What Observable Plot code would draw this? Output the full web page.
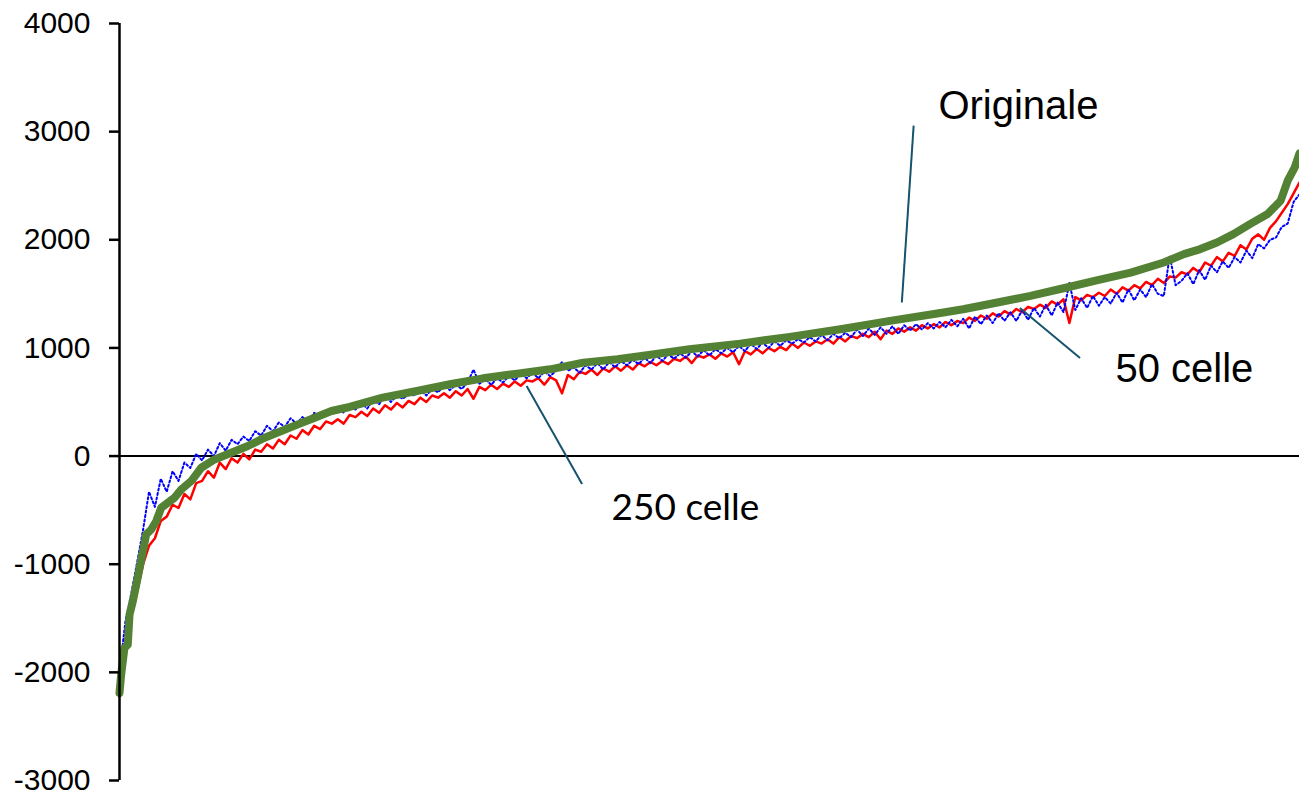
<!DOCTYPE html>
<html>
<head>
<meta charset="utf-8">
<script src="https://cdn.jsdelivr.net/npm/d3@7"></script>
<script src="https://cdn.jsdelivr.net/npm/@observablehq/plot@0.6"></script>
<style>
  html, body { margin: 0; padding: 0; background: #fff; }
  #chart svg { display: block; }
</style>
</head>
<body>
<div id="chart"></div>
<script>
// ---- Data ----
// Rank of observation (0..1000), values sorted by the original series
const yTicks = [-3000, -2000, -1000, 0, 1000, 2000, 3000, 4000];

// "Originale" (green, thick) — readings at these ranks
const originaleRank = [0,1.4,4.2,7,8.5,11.3,14.2,17,19.8,22.6,26.9,31.1,35.4,41,46.6,52.3,60.8,69.3,80.6,94.7,108.8,123,137.2,151.2,165.4,179.6,195,223,252,280,308,337,365,393,422,447,483,526,568,611,653,693,715,744,772,800,829,857,885,902,916,930,944,958,973,984,990,996,1000];
const originaleVal = [-2190,-2020,-1775,-1744,-1466,-1343,-1188,-1034,-880,-725,-679,-602,-478,-432,-386,-309,-231,-108,-31,31,93,170,231,293,355,417,454,540,602,664,719,762,802,864,895,932,988,1040,1102,1173,1250,1318,1358,1420,1481,1552,1627,1697,1790,1867,1914,1975,2052,2145,2238,2361,2546,2670,2800];

// "250 celle" (red) and "50 celle" (blue dotted): one reading every 5 ranks
const cellStep = 5;
const celle250 = [
-2225,-1800,-1480,-1250,-1000,-830,-760,-600,-560,-450,
-480,-350,-400,-250,-230,-140,-200,-60,-120,-20,
-60,20,-30,60,40,110,70,150,110,190,
160,240,200,280,250,320,300,340,300,380,
360,410,370,440,400,470,430,490,450,510,
480,540,500,560,540,580,540,600,560,620,
530,640,610,660,620,670,640,690,650,700,
690,720,660,730,700,580,750,710,780,760,
800,750,810,780,830,790,840,800,860,830,
870,840,880,850,900,880,920,860,930,910,
940,900,950,920,960,850,970,940,990,950,
1000,970,1010,980,1040,1000,1050,1020,1060,1040,
1080,1040,1100,1060,1110,1090,1130,1100,1150,1080,
1160,1130,1180,1150,1190,1160,1210,1180,1220,1190,
1240,1210,1250,1230,1280,1250,1300,1270,1320,1290,
1340,1310,1360,1330,1380,1360,1400,1370,1430,1400,
1450,1230,1470,1440,1490,1470,1510,1480,1540,1500,
1560,1530,1580,1550,1610,1580,1640,1600,1660,1650,
1700,1680,1740,1700,1790,1760,1840,1800,1880,1850,
1950,1910,2010,2050,2000,2110,2170,2250,2330,2430,
2530];
const celle50 = [
-2000,-1530,-1270,-980,-680,-330,-470,-210,-330,-140,
-230,-60,-110,20,-40,60,0,120,50,150,
110,180,140,230,190,280,230,310,270,350,
300,360,320,400,360,420,390,440,400,470,
430,490,440,520,480,560,500,560,530,570,
560,610,560,620,590,650,610,660,620,680,
800,670,710,660,720,680,740,700,760,720,
770,720,780,740,790,870,790,820,770,840,
800,860,800,870,820,880,840,890,850,910,
860,930,880,940,900,950,910,970,920,980,
930,990,950,1000,960,1020,970,1040,990,1050,
1000,1060,1020,1070,1040,1080,1050,1100,1060,1120,
1070,1130,1090,1140,1100,1170,1110,1180,1120,1190,
1130,1200,1130,1210,1160,1220,1170,1230,1180,1240,
1190,1260,1200,1270,1180,1290,1220,1300,1230,1320,
1250,1330,1250,1350,1260,1370,1290,1400,1300,1420,
1330,1600,1350,1460,1370,1480,1390,1470,1410,1510,
1420,1540,1440,1540,1470,1590,1500,1480,1850,1580,
1620,1690,1590,1720,1630,1760,1700,1800,1740,1840,
1790,1900,1830,1960,1920,2000,2020,2120,2150,2350,
2420];

// Annotation labels with leader lines (data coordinates: rank, value)
const labelText   = ["Originale", "50 celle", "250 celle"];
const labelRank   = [694, 844, 417];
const labelVal    = [3240, 806, -481];
const leaderFromR = [663, 763, 345];
const leaderFromV = [1420, 1370, 648];
const leaderToR   = [673, 814, 392];
const leaderToV   = [3056, 907, -259];
const labelFont   = ["Liberation Sans, Arial, sans-serif", "Liberation Sans, Arial, sans-serif", "Lato, sans-serif"];
const labelSize   = [40, 40, 37];

// ---- Build tables ----
const green = originaleRank.map((r, i) => ({rank: r, value: originaleVal[i]}));
const red = celle250.map((v, i) => ({rank: i * cellStep, value: v}));
const blue = celle50.map((v, i) => ({rank: i * cellStep, value: v}));
const labels = labelText.map((t, i) => ({
  text: t, rank: labelRank[i], value: labelVal[i],
  r1: leaderFromR[i], v1: leaderFromV[i], r2: leaderToR[i], v2: leaderToV[i],
  font: labelFont[i], size: labelSize[i]
}));

const chart = Plot.plot({
  width: 1299,
  height: 797,
  marginLeft: 119,
  marginRight: 0,
  marginTop: 23,
  marginBottom: 17,
  style: {fontFamily: "Liberation Sans, Arial, sans-serif", background: "#fff"},
  x: {domain: [0, 1000], axis: null},
  y: {domain: [-3000, 4000], axis: null},
  marks: [
    Plot.ruleY([0], {stroke: "black", strokeWidth: 2}),
    Plot.line(red, {x: "rank", y: "value", stroke: "#ff0000", strokeWidth: 2.5, strokeLinejoin: "round"}),
    Plot.line(blue, {x: "rank", y: "value", stroke: "#0000ff", strokeWidth: 2, strokeDasharray: "2,2.5"}),
    Plot.line(green, {x: "rank", y: "value", stroke: "#548235", strokeWidth: 8, strokeLinejoin: "round"}),
    Plot.ruleX([0], {y1: -3000, y2: 4000, stroke: "black", strokeWidth: 2.5}),
    Plot.axisY({
      ticks: yTicks, tickSize: 10, tickPadding: 19,
      tickFormat: d => d.toString(), fontSize: 30,
      stroke: "black", strokeWidth: 2.5, fill: "black", color: "black"
    }),
    Plot.link(labels, {x1: "r1", y1: "v1", x2: "r2", y2: "v2", stroke: "#17536e", strokeWidth: 2}),
    ...labels.map(l => Plot.text([l], {
      x: "rank", y: "value", text: "text", textAnchor: "start",
      fontSize: l.size, fontFamily: l.font, fill: "black"
    }))
  ]
});
document.getElementById("chart").appendChild(chart);
</script>
</body>
</html>
